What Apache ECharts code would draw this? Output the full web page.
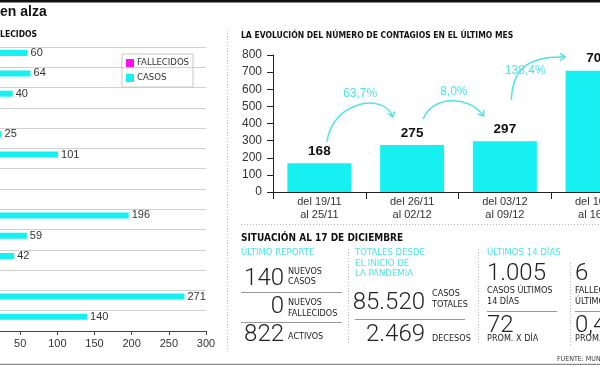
<!DOCTYPE html>
<html>
<head>
<meta charset="utf-8">
<script src="https://cdn.jsdelivr.net/npm/echarts@6/dist/echarts.min.js"></script>
<style>
html,body{margin:0;padding:0;background:#fff;overflow:hidden;width:600px;height:365px;position:relative;}
#c{position:absolute;left:-17px;top:0;width:661px;height:365px;}
</style>
</head>
<body>
<div id="c"></div>
<script>
// ---- data ----
const rowCategories = ['Fila 1','Fila 2','Fila 3','Fila 4','Fila 5','Fila 6','Fila 7','Fila 8','Fila 9','Fila 10','Fila 11','Fila 12','Fila 13','Fila 14'];
const casosRows = [60, 64, 40, null, 25, 101, null, null, 196, 59, 42, null, 271, 140];
const fallecidosRows = [null, null, null, null, null, null, null, null, null, null, null, null, null, null];
const xTicksLeft = [0, 50, 100, 150, 200, 250, 300];
const weekCategories = ['del 19/11\nal 25/11', 'del 26/11\nal 02/12', 'del 03/12\nal 09/12', 'del 10/12\nal 16/12'];
const weekCases = [168, 275, 297, 708];
const yTicksRight = [0, 100, 200, 300, 400, 500, 600, 700, 800];
const reportValues = ['140', '0', '822'];
const reportLabels = ['NUEVOS\nCASOS', 'NUEVOS\nFALLECIDOS', 'ACTIVOS'];
const totalValues = ['85.520', '2.469'];
const totalLabels = ['CASOS\nTOTALES', 'DECESOS'];
const last14Values = ['1.005', '72', '6', '0,43'];
const last14Labels = ['CASOS ÚLTIMOS\n14 DÍAS', 'PROM. X DÍA', 'FALLECIDOS\nÚLTIMOS 14 DÍAS', 'PROM. X DÍA'];

const OX = 17; // page offset of the drawing canvas
const CYAN = '#16f0f0';
const CYAN_TXT = '#4fe3e6';
const MAGENTA = '#ff10f0';
const NARROW = '"Liberation Sans Narrow","DejaVu Sans Condensed","Roboto Condensed",sans-serif';
const SANS = '"Liberation Sans",Arial,sans-serif';
const LIGHT = 'Roboto,"Open Sans",sans-serif';

const chart = echarts.init(document.getElementById('c'), null, {renderer: 'canvas'});

function txt(id, text, x, y, o) {
  o = o || {};
  return {type: 'text', id: id, silent: true, style: {
    text: text, x: x, y: y, fill: o.fill || '#222',
    fontSize: o.size || 10, fontFamily: o.family || NARROW, fontWeight: o.weight || 'normal',
    textAlign: o.align || 'left', textVerticalAlign: 'middle', lineHeight: o.lh || Math.round((o.size || 10) * 1.1)
  }};
}
function ln(id, x1, y1, x2, y2, o) {
  o = o || {};
  return {type: 'line', id: id, silent: true, shape: {x1: x1, y1: y1, x2: x2, y2: y2},
    style: {stroke: o.stroke || '#999', lineWidth: o.w || 1, lineDash: o.dash || null}};
}

const dotted = {stroke: '#b8b8b8', w: 1, dash: [1, 2]};
const BIG = {size: 24, family: LIGHT, weight: 300};
function big(o) { return Object.assign({}, BIG, o || {}); }
const staticChildren = [
  ln('topbar', -20, 1, 640, 1, {stroke: '#111', w: 3}),
  ln('bottombar', -20, 364.5, 640, 364.5, {stroke: '#8a8a8a', w: 1.5}),
  txt('headline', 'en alza', 0, 12, {size: 14, weight: 'bold', family: SANS, fill: '#111'}),
  txt('leftTitle', 'CASOS Y FALLECIDOS', 37, 35, {size: 8.5, weight: 'bold', align: 'right', fill: '#111'}),
  txt('rightTitle', 'LA EVOLUCIÓN DEL NÚMERO DE CONTAGIOS EN EL ÚLTIMO MES', 241, 36, {size: 8.5, weight: 'bold', fill: '#111'}),
  ln('vsep1', 227.5, 30, 227.5, 350, dotted),
  ln('hsep', 241, 224.5, 640, 224.5, dotted),
  ln('vsep2', 348.5, 249, 348.5, 345, dotted),
  ln('vsep3', 478.5, 249, 478.5, 345, dotted),
  ln('vsep4', 570.5, 263, 570.5, 345, dotted),
  txt('sit', 'SITUACIÓN AL 17 DE DICIEMBRE', 241, 238, {size: 10, weight: 'bold', fill: '#111'}),
  // column 1
  txt('h1', 'ÚLTIMO REPORTE', 241, 253, {size: 9.5, fill: CYAN_TXT}),
  txt('r1v', reportValues[0], 284, 279, big({align: 'right'})),
  txt('r1l', reportLabels[0], 288, 277, {size: 9, lh: 10}),
  ln('r1line', 241, 292.5, 342, 292.5),
  txt('r2v', reportValues[1], 284, 307, big({align: 'right'})),
  txt('r2l', reportLabels[1], 288, 308.5, {size: 9, lh: 11}),
  ln('r2line', 241, 322.5, 342, 322.5),
  txt('r3v', reportValues[2], 284, 335, big({align: 'right'})),
  txt('r3l', reportLabels[2], 288, 337, {size: 9}),
  // column 2
  txt('h2', 'TOTALES DESDE\nEL INICIO DE\nLA PANDEMIA', 355, 263.5, {size: 9.5, fill: CYAN_TXT, lh: 10.5}),
  txt('t1v', totalValues[0], 425, 303, big({align: 'right'})),
  txt('t1l', totalLabels[0], 432, 299.5, {size: 9, lh: 11}),
  ln('t1line', 355, 319.5, 465, 319.5),
  txt('t2v', totalValues[1], 425, 335, big({align: 'right'})),
  txt('t2l', totalLabels[1], 432, 339, {size: 9}),
  // column 3
  txt('h3', 'ÚLTIMOS 14 DÍAS', 487, 253, {size: 9.5, fill: CYAN_TXT}),
  txt('l1v', last14Values[0], 487, 274, big()),
  txt('l1l', last14Labels[0], 487, 296.5, {size: 9, lh: 11}),
  ln('l1line', 487, 311.5, 557, 311.5),
  txt('l2v', last14Values[1], 487, 326, big()),
  txt('l2l', last14Labels[1], 487, 339, {size: 9}),
  // column 4
  txt('l3v', last14Values[2], 575, 274, big()),
  txt('l3l', last14Labels[2], 575, 296.5, {size: 9, lh: 11}),
  ln('l3line', 575, 311.5, 640, 311.5),
  txt('l4v', last14Values[3], 575, 326, big()),
  txt('l4l', last14Labels[3], 575, 339, {size: 9}),
  txt('src', 'FUENTE: MUNICIPALIDAD', 557, 359, {size: 7, fill: '#333'})
];
const staticGroup = {type: 'group', id: 'static', x: OX, y: 0, children: staticChildren};

const option = {
  animation: false,
  textStyle: {fontFamily: SANS},
  legend: {
    data: ['FALLECIDOS', 'CASOS'], orient: 'vertical', left: 122 + OX, top: 54,
    itemWidth: 8, itemHeight: 8, itemGap: 5, padding: [4, 4, 4, 4],
    borderColor: '#c8c8c8', borderWidth: 1, icon: 'rect',
    textStyle: {fontFamily: NARROW, fontSize: 9.5, color: '#333', padding: [0, 0, 0, -2]}
  },
  grid: [
    {left: 0, right: 438, top: 47, bottom: 34, containLabel: false, outerBoundsMode: 'none'},
    {left: 273 + OX, right: 0, top: 55, bottom: 173, containLabel: false, outerBoundsMode: 'none'}
  ],
  xAxis: [
    {gridIndex: 0, type: 'value', min: xTicksLeft[0], max: xTicksLeft[xTicksLeft.length - 1], interval: xTicksLeft[1] - xTicksLeft[0],
     axisLine: {show: true, lineStyle: {color: '#444'}},
     axisTick: {show: true, length: 4, lineStyle: {color: '#444'}},
     axisLabel: {fontSize: 11, color: '#333', margin: 7},
     splitLine: {show: false}},
    {gridIndex: 1, type: 'category', data: weekCategories,
     axisLine: {show: true, lineStyle: {color: '#222'}},
     axisTick: {show: true, length: 7, lineStyle: {color: '#222'}},
     axisLabel: {fontSize: 11, color: '#333', margin: 3, lineHeight: 13}}
  ],
  yAxis: [
    {gridIndex: 0, type: 'category', data: rowCategories, inverse: true,
     axisLine: {show: false}, axisTick: {show: false}, axisLabel: {show: false},
     splitLine: {show: true, interval: 0, lineStyle: {color: '#cfcfcf', width: 1.2}}},
    {gridIndex: 1, type: 'value', min: yTicksRight[0], max: yTicksRight[yTicksRight.length - 1], interval: yTicksRight[1] - yTicksRight[0],
     axisLine: {show: true, lineStyle: {color: '#222'}},
     axisTick: {show: true, length: 6, lineStyle: {color: '#222'}},
     axisLabel: {fontSize: 12, color: '#333', margin: 11},
     splitLine: {show: false}}
  ],
  series: [
    {name: 'CASOS', type: 'bar', xAxisIndex: 0, yAxisIndex: 0, data: casosRows,
     barWidth: 6, barGap: '34%', itemStyle: {color: CYAN},
     label: {show: true, position: 'right', distance: 3, fontSize: 11, color: '#333'}},
    {name: 'FALLECIDOS', type: 'bar', xAxisIndex: 0, yAxisIndex: 0, data: fallecidosRows,
     barWidth: 6, barGap: '34%', itemStyle: {color: MAGENTA},
     label: {show: true, position: 'right', distance: 3, fontSize: 11, color: '#333'}},
    {name: 'Contagios', type: 'bar', xAxisIndex: 1, yAxisIndex: 1, data: weekCases,
     barWidth: 64, itemStyle: {color: CYAN},
     label: {show: true, position: 'top', distance: 5, fontSize: 13.5, fontWeight: 'bold', color: '#111'}}
  ],
  graphic: {elements: [staticGroup]}
};
chart.setOption(option);

// ---- change arrows between weeks (annotation, placed in data space) ----
function toPx(idx, val) {
  const x0 = chart.convertToPixel({xAxisIndex: 1}, 0);
  const x1 = chart.convertToPixel({xAxisIndex: 1}, 1);
  const y = chart.convertToPixel({yAxisIndex: 1}, val);
  return [x0 + (x1 - x0) * idx, y];
}
const arrowGeom = [
  {s: [0.08, 292], c1: [0.15, 545], c2: [0.72, 575], e: [0.79, 438], lab: [0.44, 572]},
  {s: [1.12, 426], c1: [1.2, 555], c2: [1.6, 575], e: [1.77, 444], lab: [1.45, 584]},
  {s: [2.07, 537], c1: [2.08, 730], c2: [2.28, 795], e: [2.65, 788], lab: [2.22, 707]}
];
const arrowEls = [];
arrowGeom.forEach(function (g, i) {
  const s = toPx(g.s[0], g.s[1]), c1 = toPx(g.c1[0], g.c1[1]), c2 = toPx(g.c2[0], g.c2[1]), e = toPx(g.e[0], g.e[1]);
  arrowEls.push({type: 'bezierCurve', id: 'arr' + i, silent: true,
    shape: {x1: s[0], y1: s[1], cpx1: c1[0], cpy1: c1[1], cpx2: c2[0], cpy2: c2[1], x2: e[0], y2: e[1]},
    style: {stroke: CYAN_TXT, lineWidth: 1.5, fill: null}});
  const ang = Math.atan2(e[1] - c2[1], e[0] - c2[0]);
  const L = 6, a = Math.PI / 5;
  arrowEls.push({type: 'polyline', id: 'head' + i, silent: true,
    shape: {points: [
      [e[0] - L * Math.cos(ang - a), e[1] - L * Math.sin(ang - a)],
      [e[0], e[1]],
      [e[0] - L * Math.cos(ang + a), e[1] - L * Math.sin(ang + a)]
    ]},
    style: {stroke: CYAN_TXT, lineWidth: 1.5, fill: null}});
  const pct = ((weekCases[i + 1] / weekCases[i] - 1) * 100).toFixed(1).replace('.', ',') + '%';
  const lp = toPx(g.lab[0], g.lab[1]);
  arrowEls.push(txt('pct' + i, pct, lp[0], lp[1], {size: 12, family: SANS, fill: CYAN_TXT, align: 'center'}));
});
chart.setOption({graphic: {elements: [staticGroup].concat(arrowEls)}});
</script>
</body>
</html>
